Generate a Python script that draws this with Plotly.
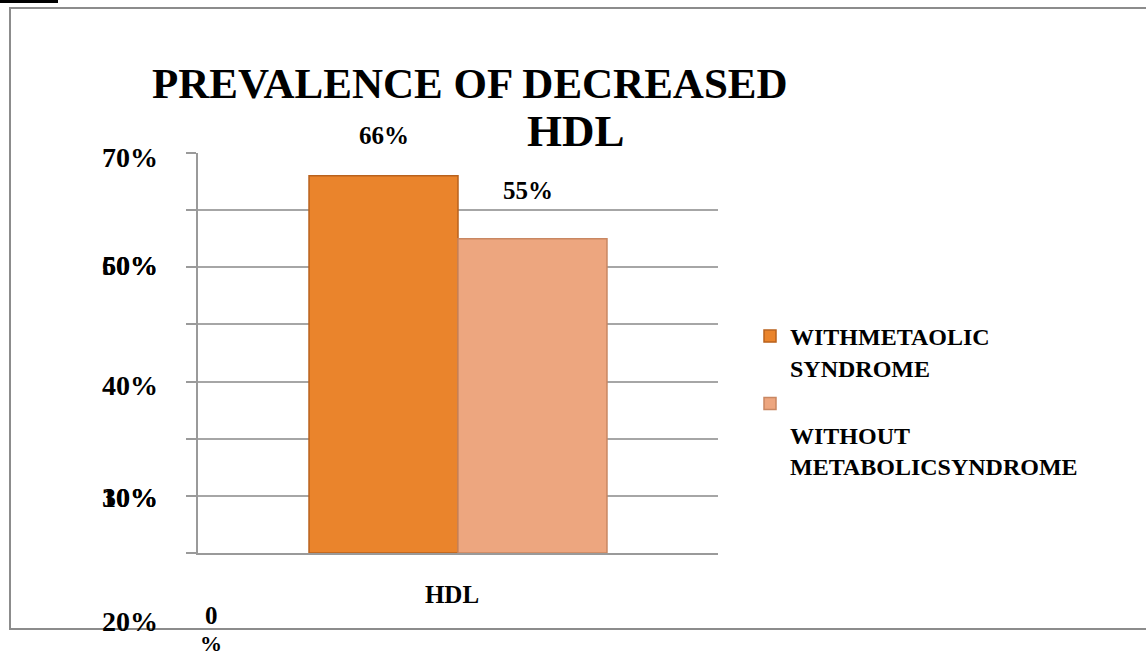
import plotly.graph_objects as go

# ---- data ----
categories = ["HDL"]
series_names = ["<b>WITHMETAOLIC<br>SYNDROME</b>", "<b> <br>WITHOUT<br>METABOLICSYNDROME</b>"]
with_ms = [0.66]
without_ms = [0.55]
value_labels = ["66%", "55%"]
ytick_labels = ["70%", "60%", "50%", "40%", "30%", "10%", "20%"]

W, H = 1146, 656
L, R, T, B = 198, 718, 153, 553
pw, ph = R - L, B - T

def px(x):
    return (x - L) / pw

def py(y):
    return (B - y) / ph

TITLE_FONT = "Liberation Serif, serif"
LAB_FONT = "Liberation Serif, serif"

fig = go.Figure()
fig.add_trace(go.Bar(
    x=categories, y=with_ms, name=series_names[0], legendgroup="a",
    marker=dict(color="#EA842C", line=dict(color="#B9621D", width=1.5)),
))
fig.add_trace(go.Bar(
    x=categories, y=without_ms, name=series_names[1], legendgroup="b",
    marker=dict(color="#EDA67F", line=dict(color="#C98762", width=1.5)),
))

ann = []
# title (wrapped oddly in the source)
ann.append(dict(text="<b>PREVALENCE OF DECREASED</b>", x=px(470), y=py(84), xref="paper", yref="paper",
                showarrow=False, xanchor="center", yanchor="middle",
                font=dict(family=TITLE_FONT, size=43, color="black")))
ann.append(dict(text="<b>HDL</b>", x=px(576), y=py(131), xref="paper", yref="paper",
                showarrow=False, xanchor="center", yanchor="middle",
                font=dict(family=TITLE_FONT, size=45, color="black")))
# value labels above bars
shifts = [(-74, 40), (70, 48)]
for val, lab, (xs, ys) in zip(with_ms + without_ms, value_labels, shifts):
    ann.append(dict(text="<b>" + lab + "</b>", x=categories[0], y=val, xref="x", yref="y",
                    xshift=xs, yshift=ys, showarrow=False, xanchor="center", yanchor="middle",
                    font=dict(family=LAB_FONT, size=25, color="black")))
# misplaced y tick labels from the source
ytick_pos = [157, 265, 265, 385, 497, 497, 621]
for lab, yy in zip(ytick_labels, ytick_pos):
    ann.append(dict(text="<b>" + lab + "</b>", x=px(160), y=py(yy), xref="paper", yref="paper",
                    showarrow=False, xanchor="right", yanchor="middle",
                    font=dict(family=LAB_FONT, size=28, color="black")))
ann.append(dict(text="<b>0</b>", x=px(211), y=py(615), xref="paper", yref="paper",
                showarrow=False, xanchor="center", yanchor="middle",
                font=dict(family=LAB_FONT, size=25, color="black")))
ann.append(dict(text="<b>%</b>", x=px(211), y=py(643), xref="paper", yref="paper",
                showarrow=False, xanchor="center", yanchor="middle",
                font=dict(family=LAB_FONT, size=22, color="black")))

shapes = [
    dict(type="rect", xref="paper", yref="paper", x0=px(10), x1=px(1160), y0=py(629), y1=py(8),
         line=dict(color="#8C8C8C", width=2), fillcolor="rgba(0,0,0,0)", layer="below"),
    dict(type="line", xref="paper", yref="paper", x0=px(0), x1=px(58), y0=py(1.5), y1=py(1.5),
         line=dict(color="black", width=3)),
]

fig.update_layout(
    width=W, height=H,
    margin=dict(l=L, r=W - R, t=T, b=H - B, pad=0),
    paper_bgcolor="white", plot_bgcolor="white",
    barmode="group", bargap=0.427, bargroupgap=0,
    showlegend=True,
    legend=dict(x=px(750), y=py(314), xanchor="left", yanchor="top",
                valign="top", bgcolor="rgba(0,0,0,0)", borderwidth=0,
                font=dict(family=LAB_FONT, size=24, color="black"),
                tracegroupgap=2, itemwidth=30),
    annotations=ann, shapes=shapes,
    xaxis=dict(showline=True, linecolor="#9A9A9A", linewidth=2, ticks="",
               tickfont=dict(family=TITLE_FONT, size=25, color="black"),
               tickprefix="<b>", ticksuffix="</b>",
               ticklabelstandoff=18, ticklabelshift=-6, showgrid=False),
    yaxis=dict(range=[0, 0.7], dtick=0.1, showgrid=True, gridcolor="#A6A6A6", gridwidth=2,
               showline=True, linecolor="#9A9A9A", linewidth=2, ticks="outside", ticklen=10,
               tickcolor="#9A9A9A", tickwidth=2, showticklabels=False, zeroline=False),
)

fig.write_html("out.html")
